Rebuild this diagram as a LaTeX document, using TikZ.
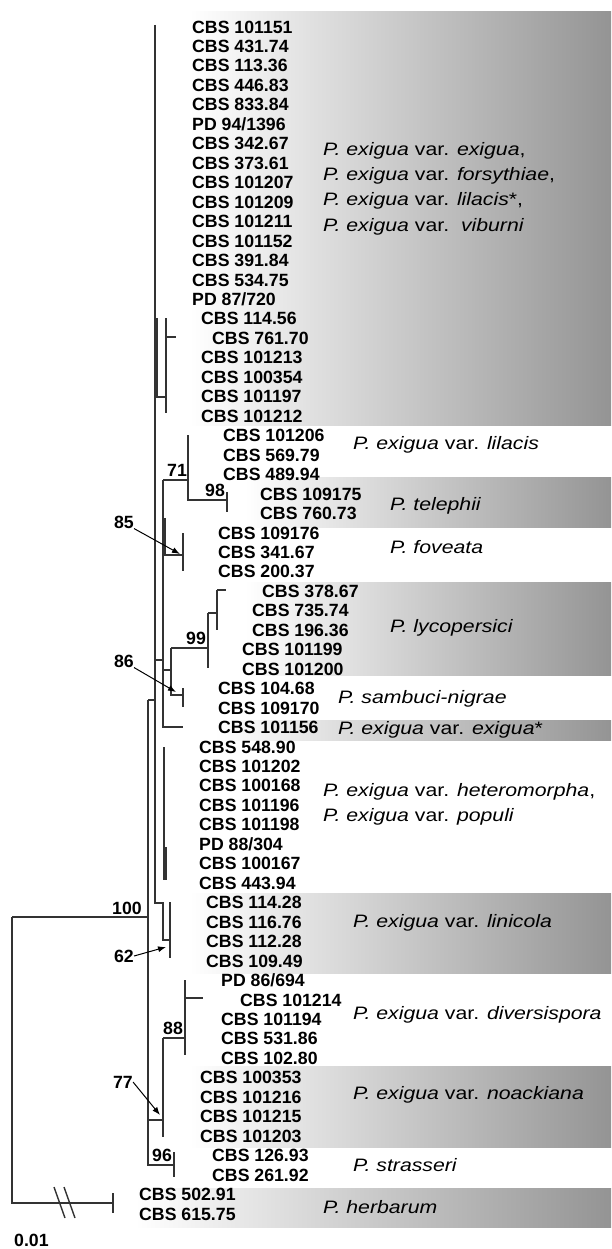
\documentclass[tikz,border=0pt]{standalone}
\usepackage{fontspec}
\setmainfont{Liberation Sans}
\newfontfamily\spfont[FakeStretch=1.18]{Liberation Sans}
\usetikzlibrary{arrows.meta}

\begin{document}
\begin{tikzpicture}[
    x=1pt, y=-1pt,
    >={Latex[width=6pt,length=8pt]},
    taxon/.style={anchor=west, inner sep=0pt, font=\fontsize{17.7}{20}\selectfont\bfseries,
                  text height=12.7pt, text depth=0pt},
    boot/.style={inner sep=0pt, font=\fontsize{17.7}{20}\selectfont\bfseries,
                 text height=12.7pt, text depth=0pt},
    species/.style={anchor=west, inner sep=0pt, align=left,
                    font=\spfont\fontsize{18}{25.3}\selectfont},
    band/.style={left color=white, middle color=black!12, right color=black!42},
    br/.style={line width=1.4pt, black!80},
    arr/.style={->, line width=1pt}
  ]

  \useasboundingbox (0,0) rectangle (611,1249);
  \fill[white] (0,0) rectangle (611,1249);

  % ---------- shaded groups ------------------------------------------------
  \shade[band] (190,12)   rectangle (611,425);
  \shade[band] (245,477)  rectangle (611,527);
  \shade[band] (245,582)  rectangle (611,675);
  \shade[band] (215,720)  rectangle (611,740);
  \shade[band] (190,893)  rectangle (611,973);
  \shade[band] (190,1066) rectangle (611,1147);
  \shade[band] (135,1188) rectangle (611,1227);

  % ---------- strains ------------------------------------------------------
  % one row every 19.46 units, indented to the tip of each branch
  \foreach \lab/\xx [count=\i] in {
      CBS 101151/192, CBS 431.74/192, CBS 113.36/192, CBS 446.83/192,
      CBS 833.84/192, {PD 94/1396}/192, CBS 342.67/192, CBS 373.61/192,
      CBS 101207/192, CBS 101209/192, CBS 101211/192, CBS 101152/192,
      CBS 391.84/192, CBS 534.75/192, {PD 87/720}/192,
      CBS 114.56/201, CBS 761.70/212, CBS 101213/201, CBS 100354/201,
      CBS 101197/201, CBS 101212/201,
      CBS 101206/223, CBS 569.79/223, CBS 489.94/223,
      CBS 109175/260, CBS 760.73/260,
      CBS 109176/218, CBS 341.67/218, CBS 200.37/218,
      CBS 378.67/262, CBS 735.74/252, CBS 196.36/252, CBS 101199/242,
      CBS 101200/242,
      CBS 104.68/218, CBS 109170/218, CBS 101156/218,
      CBS 548.90/199, CBS 101202/199, CBS 100168/199, CBS 101196/199,
      CBS 101198/199, {PD 88/304}/199, CBS 100167/199, CBS 443.94/199,
      CBS 114.28/206, CBS 116.76/206, CBS 112.28/206, CBS 109.49/206,
      {PD 86/694}/221, CBS 101214/240, CBS 101194/221, CBS 531.86/221,
      CBS 102.80/221,
      CBS 100353/200, CBS 101216/200, CBS 101215/200, CBS 101203/200,
      CBS 126.93/212, CBS 261.92/212,
      CBS 502.91/139, CBS 615.75/139}{
    \node[taxon] (t\i) at (\xx, {26.7+19.46*(\i-1)}) {\lab};
  }

  % ---------- tree ---------------------------------------------------------
  \draw[br] (155,25) -- (155,903) -- (163,903) -- (163,940) -- (170,940);
  \draw[br] (170,902) -- (170,958);
  \draw[br] (148,700) -- (155,700);
  \draw[br] (148,700) -- (148,1165) -- (174,1165);
  \draw[br] (174,1152) -- (174,1177);

  % first subclade
  \draw[br] (157,318) -- (157,397) -- (166,397);
  \draw[br] (166,318) -- (166,413);
  \draw[br] (166,337) -- (176,337);

  % lilacis / telephii / foveata / lycopersici / sambuci-nigrae
  \draw[br] (155,660) -- (163,660);
  \draw[br] (163,480) -- (163,727) -- (183,727);
  \draw[br] (163,480) -- (188,480);
  \draw[br] (188,435) -- (188,500) -- (227,500);
  \draw[br] (227,492) -- (227,512);
  \draw[br] (165,518) -- (165,555);
  \draw[br] (163,555) -- (183,555);
  \draw[br] (183,533) -- (183,571);
  \draw[br] (163,670) -- (171,670);
  \draw[br] (171,648) -- (171,695) -- (183,695);
  \draw[br] (183,688) -- (183,707);
  \draw[br] (171,648) -- (208,648);
  \draw[br] (208,613) -- (208,668);
  \draw[br] (208,613) -- (217,613);
  \draw[br] (217,590) -- (217,630);
  \draw[br] (217,590) -- (226,590);

  % heteromorpha / populi
  \draw[br] (164,747) -- (164,880);
  \draw[br] (166,847) -- (166,880);

  % diversispora / noackiana
  \draw[br] (148,1120) -- (163,1120);
  \draw[br] (163,1038) -- (163,1137);
  \draw[br] (163,1038) -- (185,1038);
  \draw[br] (185,980) -- (185,1055);
  \draw[br] (185,998) -- (203,998);

  % outgroup, with the branch broken
  \draw[br] (12,917) -- (148,917);
  \draw[br] (12,917) -- (12,1203) -- (113,1203);
  \draw[br] (113,1193) -- (113,1213);
  \draw[br] (54,1187) -- (65,1218);
  \draw[br] (64,1187) -- (75,1218);

  % ---------- bootstrap support --------------------------------------------
  \node[boot] (b100) at (127,908)  {100};
  \node[boot] (b71)  at (177,470)  {71};
  \node[boot] (b98)  at (215,490)  {98};
  \node[boot] (b99)  at (196,638)  {99};
  \node[boot] (b88)  at (173,1028) {88};
  \node[boot] (b96)  at (162,1155) {96};
  \node[boot] (b85)  at (124,522)  {85};
  \node[boot] (b86)  at (124,661)  {86};
  \node[boot] (b62)  at (124,956)  {62};
  \node[boot] (b77)  at (123,1082) {77};

  % values of nodes too short to carry them are pointed at
  \coordinate (n85) at (180,554);
  \coordinate (n86) at (176,692);
  \coordinate (n62) at (166,947);
  \coordinate (n77) at (160,1115);
  \draw[arr] (b85.south east) -- (n85);
  \draw[arr] (b86.south east) -- (n86);
  \draw[arr] (b62.east) -- (n62);
  \draw[arr] (b77.east) -- (n77);

  \node[boot, anchor=west] (scale) at (14,1240) {0.01};

  % ---------- taxa ---------------------------------------------------------
  \node[species] (spA) at (323,188.5) {\textit{P. exigua} var. \textit{exigua},\\
        \textit{P. exigua} var. \textit{forsythiae},\\
        \textit{P. exigua} var. \textit{lilacis}*,\\
        \textit{P. exigua} var.\hspace{4pt} \textit{viburni}};
  \node[species] (spB) at (353,445)  {\textit{P. exigua} var. \textit{lilacis}};
  \node[species] (spC) at (390,506)  {\textit{P. telephii}};
  \node[species] (spD) at (390,547)  {\textit{P. foveata}};
  \node[species] (spE) at (390,628)  {\textit{P. lycopersici}};
  \node[species] (spF) at (338,699)  {\textit{P. sambuci-nigrae}};
  \node[species] (spG) at (338,730)  {\textit{P. exigua} var. \textit{exigua}*};
  \node[species] (spH) at (323,804.5) {\textit{P. exigua} var. \textit{heteromorpha},\\
        \textit{P. exigua} var. \textit{populi}};
  \node[species] (spI) at (353,923)  {\textit{P. exigua} var. \textit{linicola}};
  \node[species] (spJ) at (353,1015) {\textit{P. exigua} var. \textit{diversispora}};
  \node[species] (spK) at (353,1095) {\textit{P. exigua} var. \textit{noackiana}};
  \node[species] (spL) at (353,1165) {\textit{P. strasseri}};
  \node[species] (spM) at (323,1207) {\textit{P. herbarum}};

\end{tikzpicture}
\end{document}
